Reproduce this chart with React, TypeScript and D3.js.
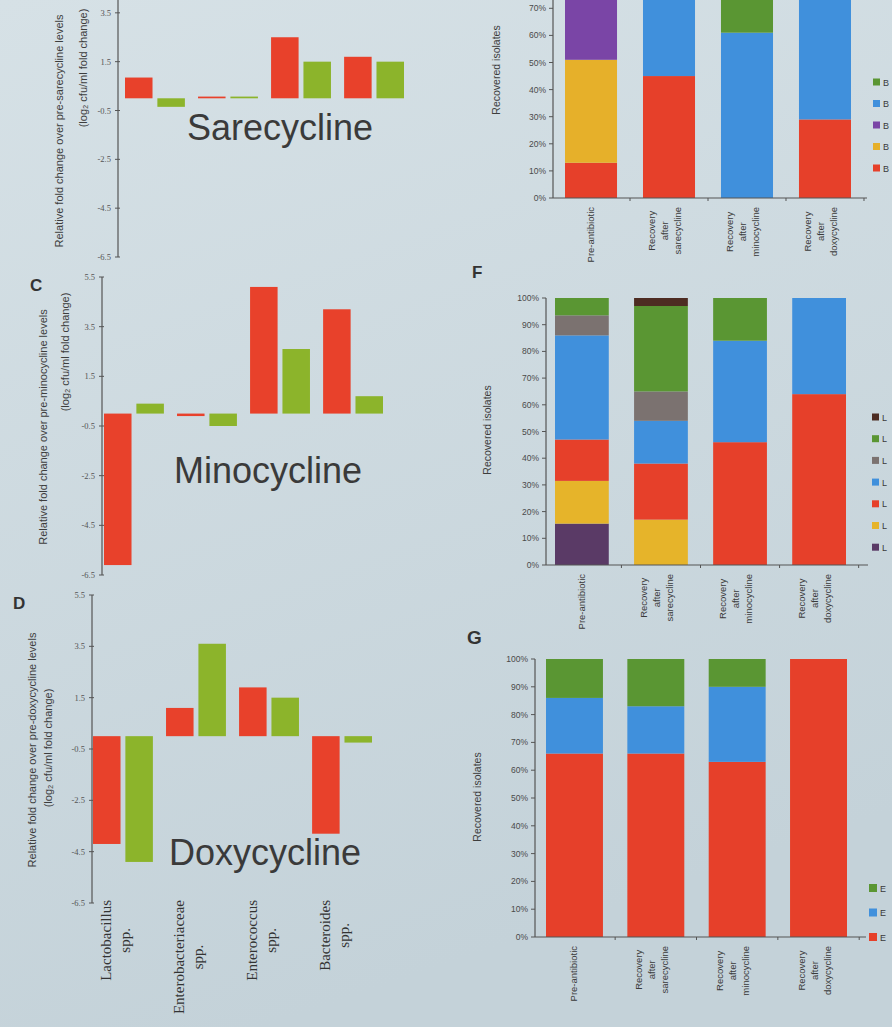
import React from 'react';
import * as d3 from 'd3';

// ---------- data: left panels (log2 fold change) ----------
const categories = ['Lactobacillus', 'Enterobacteriaceae', 'Enterococcus', 'Bacteroides'];
const categorySuffix = 'spp.';
const foldTicks = [5.5, 3.5, 1.5, -0.5, -2.5, -4.5, -6.5];
const seriesKeys = ['red', 'green'];

const sarecyclineRed = [0.85, 0.07, 2.5, 1.7];
const sarecyclineGreen = [-0.35, 0.07, 1.5, 1.5];
const minocyclineRed = [-6.1, -0.1, 5.1, 4.2];
const minocyclineGreen = [0.4, -0.5, 2.6, 0.7];
const doxycyclineRed = [-4.2, 1.1, 1.9, -3.8];
const doxycyclineGreen = [-4.9, 3.6, 1.5, -0.25];

// ---------- data: right panels (recovered isolates, %) ----------
const conditions = ['Pre-antibiotic', 'Recovery after sarecycline', 'Recovery after minocycline', 'Recovery after doxycycline'];
const conditionLines = [['Pre-antibiotic'], ['Recovery', 'after', 'sarecycline'], ['Recovery', 'after', 'minocycline'], ['Recovery', 'after', 'doxycycline']];
const pctTicks = [0, 10, 20, 30, 40, 50, 60, 70, 80, 90, 100];

// panel E, stacked bottom -> top: red, orange, purple, blue, green
const panelEShares = [
  [13, 38, 49, 0, 0],
  [45, 0, 0, 55, 0],
  [0, 0, 0, 61, 39],
  [29, 0, 0, 71, 0],
];
// panel F, stacked bottom -> top: dark purple, yellow, red, blue, grey, green, brown
const panelFShares = [
  [15.5, 16, 15.5, 39, 7.5, 6.5, 0],
  [0, 17, 21, 16, 11, 32, 3],
  [0, 0, 46, 38, 0, 16, 0],
  [0, 0, 64, 36, 0, 0, 0],
];
// panel G, stacked bottom -> top: red, blue, green
const panelGShares = [
  [66, 20, 14],
  [66, 17, 17],
  [63, 27, 10],
  [100, 0, 0],
];

// ---------- styles ----------
const LRED = '#e8412b';
const LGREEN = '#8cb42b';
const RED = '#e6402a';
const BLUE = '#4090dc';
const GREEN = '#5a9633';
const colorsE = [RED, '#e6b02a', '#7a45a6', BLUE, GREEN];
const colorsF = ['#5a3a66', '#e6b42a', RED, BLUE, '#7b7270', GREEN, '#4d2c22'];
const colorsG = [RED, BLUE, GREEN];

let measureCtx: CanvasRenderingContext2D | null = null;
function textWidth(s: string, font: string): number {
  if (typeof document === 'undefined') return s.length * 6;
  if (!measureCtx) measureCtx = document.createElement('canvas').getContext('2d');
  if (!measureCtx) return s.length * 6;
  measureCtx.font = font;
  return measureCtx.measureText(s).width;
}

type FoldCfg = {
  red: number[]; green: number[]; title: string; drug: string;
  yTop: number; yBottom: number; axisX: number; x0: number;
  titleX: number; titleY: number;
  t1: [number, number]; t2: [number, number];
  showX: boolean;
};

const foldPanels: FoldCfg[] = [
  { red: sarecyclineRed, green: sarecyclineGreen, title: 'Sarecycline', drug: 'sarecycline',
    yTop: -36, yBottom: 257, axisX: 118, x0: 125, titleX: 280, titleY: 140,
    t1: [63, 131], t2: [87, 68], showX: false },
  { red: minocyclineRed, green: minocyclineGreen, title: 'Minocycline', drug: 'minocycline',
    yTop: 277, yBottom: 575, axisX: 102, x0: 104, titleX: 268, titleY: 483,
    t1: [47, 427], t2: [69, 352], showX: false },
  { red: doxycyclineRed, green: doxycyclineGreen, title: 'Doxycycline', drug: 'doxycycline',
    yTop: 595, yBottom: 903, axisX: 92, x0: 93, titleX: 265, titleY: 865,
    t1: [36, 750], t2: [52, 748], showX: true },
];

function FoldPanel({ cfg }: { cfg: FoldCfg }) {
  const y = d3.scaleLinear().domain([5.5, -6.5]).range([cfg.yTop, cfg.yBottom]);
  const x = d3.scaleBand<string>().domain(categories).range([cfg.x0, cfg.x0 + 4 * 73 - 13]).paddingInner(0.18).paddingOuter(0);
  const xs = d3.scaleBand<string>().domain(seriesKeys).range([0, x.bandwidth()]).paddingInner(0.15);
  const vals: Record<string, number[]> = { red: cfg.red, green: cfg.green };
  const col: Record<string, string> = { red: LRED, green: LGREEN };
  const xFont = '15px "Liberation Serif"';
  const visibleTicks = foldTicks.filter(t => y(t) > 6);
  return (
    <g>
      {/* y axis */}
      <line x1={cfg.axisX} x2={cfg.axisX} y1={Math.max(0, y(5.5))} y2={y(-6.5)} stroke="#555" strokeWidth={1.2} />
      {visibleTicks.map(t => (
        <g key={t}>
          <line x1={cfg.axisX - 3} x2={cfg.axisX + 2} y1={y(t)} y2={y(t)} stroke="#555" strokeWidth={1} />
          <text x={cfg.axisX - 7} y={y(t) + 3} textAnchor="end" fontFamily="Liberation Serif" fontSize={8.5} fill="#555">{t.toFixed(1)}</text>
        </g>
      ))}
      {/* y title */}
      <text transform={`translate(${cfg.t1[0]},${cfg.t1[1]}) rotate(-90)`} textAnchor="middle" fontFamily="Liberation Sans" fontSize={11} fill="#3d3d3d">
        {`Relative fold change over pre-${cfg.drug} levels`}
      </text>
      <text transform={`translate(${cfg.t2[0]},${cfg.t2[1]}) rotate(-90)`} textAnchor="middle" fontFamily="Liberation Sans" fontSize={11} fill="#3d3d3d">
        (log₂ cfu/ml fold change)
      </text>
      {/* bars */}
      {categories.map((c, i) => seriesKeys.map(k => {
        const v = vals[k][i];
        const y1 = y(Math.max(0, v));
        const h = Math.max(1.5, Math.abs(y(v) - y(0)));
        return <rect key={c + k} x={(x(c) as number) + (xs(k) as number)} y={y1} width={xs.bandwidth()} height={h} fill={col[k]} />;
      }))}
      {/* title */}
      <text x={cfg.titleX} y={cfg.titleY} textAnchor="middle" fontFamily="Liberation Sans" fontSize={36} fill="#3a3a3a">{cfg.title}</text>
      {/* category labels */}
      {cfg.showX && categories.map(c => {
        const cx = (x(c) as number) + x.bandwidth() / 2;
        const w = Math.max(textWidth(c, xFont), textWidth(categorySuffix, xFont));
        const cy = 900 + w / 2;
        return (
          <g key={c} fontFamily="Liberation Serif" fontSize={15} fill="#333">
            <text transform={`translate(${cx - 12},${cy}) rotate(-90)`} textAnchor="middle">{c}</text>
            <text transform={`translate(${cx + 7},${cy}) rotate(-90)`} textAnchor="middle">{categorySuffix}</text>
          </g>
        );
      })}
    </g>
  );
}

type StackCfg = {
  shares: number[][]; colors: string[]; letter: string;
  axisX: number; y0: number; y100: number; barL: number; barR: number; pad: number;
  legX: number; legY: number; legStep: number; legSize: number;
  titleX: number; titleY: number; axisEnd: number;
};

const stackPanels: StackCfg[] = [
  { shares: panelEShares, colors: colorsE, letter: 'B', axisX: 553, y0: 198, y100: -73, barL: 565, barR: 851, pad: 0.333,
    legX: 873, legY: 82, legStep: 21.5, legSize: 7, titleX: 500, titleY: 70, axisEnd: 867 },
  { shares: panelFShares, colors: colorsF, letter: 'L', axisX: 546, y0: 565, y100: 298, barL: 555, barR: 846, pad: 0.32,
    legX: 872, legY: 417, legStep: 21.7, legSize: 7, titleX: 491, titleY: 430, axisEnd: 868 },
  { shares: panelGShares, colors: colorsG, letter: 'E', axisX: 535, y0: 937, y100: 659, barL: 546, barR: 847, pad: 0.3,
    legX: 869, legY: 888, legStep: 24.5, legSize: 8, titleX: 481, titleY: 797, axisEnd: 866 },
];

function StackPanel({ cfg }: { cfg: StackCfg }) {
  const y = d3.scaleLinear().domain([0, 100]).range([cfg.y0, cfg.y100]);
  const x = d3.scaleBand<string>().domain(conditions).range([cfg.barL, cfg.barR]).paddingInner(cfg.pad).paddingOuter(0);
  const keys = cfg.colors.map((_, i) => String(i));
  const rows = cfg.shares.map((s, ci) => {
    const o: Record<string, any> = { cond: conditions[ci] };
    s.forEach((v, k) => { o[String(k)] = v; });
    return o;
  });
  const series = d3.stack<Record<string, any>>().keys(keys)(rows);
  const lFont = '9.5px "Liberation Sans"';
  const visibleTicks = pctTicks.filter(t => y(t) > 6);
  return (
    <g>
      {series.map((s, si) => s.map((d, di) => {
        if (d[1] - d[0] <= 0) return null;
        return <rect key={`${si}-${di}`} x={x(conditions[di]) as number} y={y(d[1])} width={x.bandwidth()} height={y(d[0]) - y(d[1])} fill={cfg.colors[si]} />;
      }))}
      <line x1={cfg.axisX} x2={cfg.axisX} y1={y(0)} y2={Math.max(0, y(100))} stroke="#555" strokeWidth={1.2} />
      <line x1={cfg.axisX} x2={cfg.axisEnd} y1={y(0)} y2={y(0)} stroke="#555" strokeWidth={1.2} />
      {visibleTicks.map(t => (
        <g key={t}>
          <line x1={cfg.axisX - 4} x2={cfg.axisX} y1={y(t)} y2={y(t)} stroke="#555" />
          <text x={cfg.axisX - 7} y={y(t) + 3} textAnchor="end" fontFamily="Liberation Sans" fontSize={8.5} fill="#4a4a4a">{t}%</text>
        </g>
      ))}
      {conditions.map(c => (
        <line key={c} x1={(x(c) as number) + x.bandwidth() / 2 + x.step() / 2} x2={(x(c) as number) + x.bandwidth() / 2 + x.step() / 2} y1={y(0)} y2={y(0) + 3} stroke="#555" />
      ))}
      <text transform={`translate(${cfg.titleX},${cfg.titleY}) rotate(-90)`} textAnchor="middle" fontFamily="Liberation Sans" fontSize={10.5} fill="#3d3d3d">Recovered isolates</text>
      {conditions.map((c, ci) => {
        const lines = conditionLines[ci];
        const cx = (x(c) as number) + x.bandwidth() / 2;
        const w = Math.max(...lines.map(l => textWidth(l, lFont)));
        const cy = y(0) + 9 + w / 2;
        const offs = lines.length === 1 ? [3] : [-14, -1, 12];
        return (
          <g key={c} fontFamily="Liberation Sans" fontSize={9.5} fill="#3a3a3a">
            {lines.map((l, li) => (
              <text key={li} transform={`translate(${cx + offs[li]},${cy}) rotate(-90)`} textAnchor="middle">{l}</text>
            ))}
          </g>
        );
      })}
      {cfg.colors.slice().reverse().map((col, i) => (
        <g key={i}>
          <rect x={cfg.legX} y={cfg.legY + i * cfg.legStep - cfg.legSize / 2} width={cfg.legSize} height={cfg.legSize} fill={col} />
          <text x={cfg.legX + cfg.legSize + 3} y={cfg.legY + i * cfg.legStep + 3.5} fontFamily="Liberation Sans" fontSize={9} fill="#3a3a3a">{cfg.letter}</text>
        </g>
      ))}
    </g>
  );
}

export default function App() {
  return (
    <svg width={892} height={1027} viewBox="0 0 892 1027" style={{ position: 'fixed', left: 0, top: 0, display: 'block' }}>
      <defs>
        <linearGradient id="bg" x1="0" y1="0" x2="0.3" y2="1">
          <stop offset="0" stopColor="#d6e1e6" />
          <stop offset="1" stopColor="#c4d2d9" />
        </linearGradient>
      </defs>
      <rect x={0} y={0} width={892} height={1027} fill="url(#bg)" />
      {foldPanels.map((p, i) => <FoldPanel key={i} cfg={p} />)}
      {stackPanels.map((p, i) => <StackPanel key={i} cfg={p} />)}
      <g fontFamily="Liberation Sans" fontWeight="bold" fill="#333">
        <text x={30} y={291} fontSize={17}>C</text>
        <text x={13} y={609} fontSize={17}>D</text>
        <text x={472} y={278} fontSize={17}>F</text>
        <text x={467} y={644} fontSize={19}>G</text>
      </g>
    </svg>
  );
}
